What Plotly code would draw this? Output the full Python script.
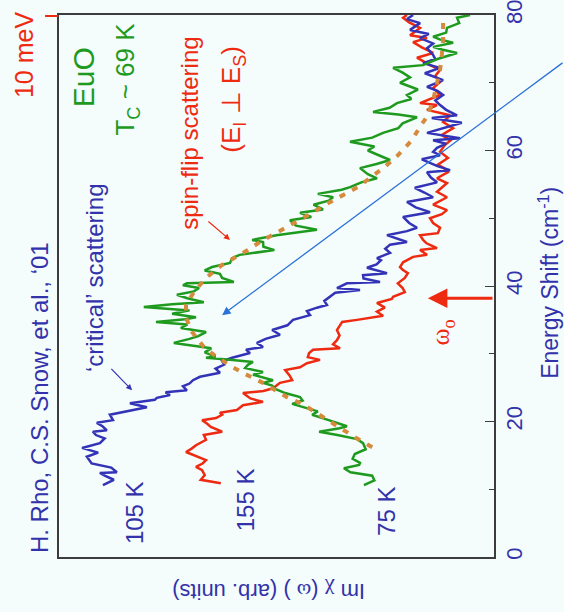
import plotly.graph_objects as go

# Energy shift (cm^-1) and Im chi (arb. units) for each temperature
e_75k = [10.6, 11.3, 12.0, 12.5, 13.1, 13.6, 13.9, 14.5, 15.2, 15.9, 16.8, 17.4, 18.0, 18.5, 19.0, 19.3,
         20.2, 21.0, 21.5, 22.1, 22.6, 23.1, 23.6, 24.2, 24.8, 25.3, 25.7, 26.1, 26.5, 26.9, 27.3, 27.9,
         28.4, 28.8, 29.1, 29.4, 29.6, 30.2, 30.8, 31.6, 32.2, 32.6, 33.2, 33.8, 34.3, 34.7, 35.1, 35.4,
         35.9, 36.4, 36.9, 37.3, 37.6, 38.2, 38.7, 39.2, 39.7, 40.1, 40.4, 40.6, 41.2, 41.8, 42.3, 42.8,
         43.4, 44.1, 44.6, 45.3, 45.8, 46.5, 46.8, 47.5, 48.3, 48.9, 49.7, 50.2, 50.8, 51.3, 52.0, 52.6,
         53.1, 53.6, 54.2, 54.6, 55.3, 55.9, 56.5, 57.4, 58.0, 58.6, 59.3, 60.0, 60.6, 61.3, 61.9, 62.6,
         63.3, 64.0, 64.9, 65.3, 65.7, 66.3, 67.0, 67.6, 68.2, 69.0, 70.0, 70.8, 71.5, 72.2, 72.6, 73.5,
         74.4, 74.9, 75.3, 75.9, 76.4, 76.8, 77.4, 78.1, 78.8, 79.6, 80.0]
i_75k = [29.9, 27.5, 28.0, 33.0, 34.5, 31.0, 30.8, 32.5, 32.0, 29.5, 30.1, 31.5, 36.0, 40.2, 35.5, 33.8,
         38.0, 41.8, 40.5, 43.9, 46.4, 44.0, 44.6, 48.0, 50.3, 51.0, 53.1, 50.8, 53.0, 55.4, 53.1, 57.2,
         56.5, 55.4, 60.7, 66.2, 64.0, 66.5, 65.0, 73.6, 70.0, 68.0, 66.2, 72.0, 70.5, 77.7, 71.0, 68.5,
         74.0, 70.0, 80.5, 74.0, 66.7, 70.5, 72.9, 69.0, 67.8, 71.5, 70.6, 59.8, 62.5, 63.0, 66.5, 64.8,
         60.7, 60.2, 58.5, 50.5, 53.0, 53.1, 55.6, 50.0, 40.7, 45.5, 46.9, 42.0, 44.6, 39.3, 41.5, 38.0,
         37.0, 40.5, 35.0, 33.1, 30.5, 26.9, 29.0, 30.8, 27.0, 23.9, 26.5, 29.0, 27.5, 33.1, 28.0, 25.5,
         22.0, 21.0, 17.7, 22.0, 27.8, 24.0, 22.3, 19.0, 20.0, 17.5, 21.6, 19.3, 21.0, 23.2, 16.3, 13.0,
         8.5, 12.0, 14.0, 9.4, 12.5, 14.0, 11.0, 10.8, 8.0, 8.5, 5.5]

e_105k = [10.6, 11.4, 12.0, 12.4, 12.5, 13.2, 13.8, 14.8, 15.4, 16.1, 16.8, 17.5, 18.0, 18.5, 18.7, 19.3,
          19.8, 20.2, 21.0, 21.7, 22.1, 22.7, 23.2, 23.5, 23.9, 24.3, 24.6, 25.2, 25.6, 26.1, 26.6, 27.2,
          27.8, 28.4, 28.9, 29.4, 30.1, 30.6, 31.0, 31.6, 32.2, 32.8, 33.5, 34.2, 35.0, 35.7, 36.3, 36.8,
          37.2, 37.8, 38.4, 39.0, 39.4, 39.7, 40.4, 40.6, 41.1, 41.6, 41.9, 42.7, 43.2, 43.8, 44.1, 44.9,
          45.5, 46.1, 46.5, 47.0, 47.5, 48.1, 48.6, 49.3, 50.2, 50.9, 51.6, 52.4, 53.1, 53.8, 54.5, 55.3,
          56.0, 56.8, 57.1, 57.7, 58.3, 58.7, 59.3, 59.8, 60.4, 61.0, 61.5, 61.8, 62.6, 63.3, 64.1, 64.8,
          65.2, 66.0, 66.7, 67.4, 68.2, 68.8, 69.4, 70.4, 71.4, 72.2, 72.9, 73.5, 74.1, 75.1, 75.8, 76.6,
          77.2, 77.8, 78.8, 79.4, 80.0]
i_105k = [89.9, 87.4, 89.5, 90.6, 86.7, 88.0, 92.5, 93.6, 91.0, 94.7, 90.6, 89.5, 91.5, 92.2, 89.0, 90.0,
          91.3, 87.6, 88.3, 83.0, 79.8, 83.7, 78.0, 77.5, 74.5, 75.5, 70.6, 71.5, 70.0, 69.2, 67.6, 63.0,
          64.0, 62.0, 62.5, 60.2, 56.1, 57.0, 53.1, 54.5, 52.5, 49.2, 51.0, 47.5, 46.2, 42.3, 43.0, 40.7,
          38.4, 39.0, 37.7, 36.5, 30.8, 36.1, 33.8, 26.2, 30.0, 30.1, 24.6, 29.2, 27.0, 26.0, 26.9, 23.9,
          25.0, 23.9, 20.0, 22.5, 24.6, 20.0, 17.7, 19.5, 20.9, 14.7, 18.0, 20.0, 14.0, 16.0, 18.2, 13.1,
          14.5, 15.4, 10.1, 13.0, 15.2, 16.6, 12.4, 14.0, 13.1, 11.0, 14.0, 7.8, 15.4, 11.5, 7.4, 14.3,
          8.5, 11.0, 12.4, 13.5, 11.7, 13.0, 15.4, 11.7, 15.9, 12.4, 16.3, 13.5, 14.0, 15.4, 14.0, 17.0,
          15.0, 19.3, 17.0, 20.0, 18.6]

e_155k = [10.9, 11.4, 12.1, 12.8, 13.3, 13.8, 14.3, 14.8, 15.5, 16.0, 16.5, 17.3, 18.0, 18.5, 19.2, 19.7,
          20.2, 20.5, 21.0, 21.3, 21.7, 22.4, 22.9, 23.4, 24.2, 24.5, 24.9, 25.7, 26.1, 26.8, 27.6, 28.0,
          28.6, 29.1, 29.5, 30.1, 30.6, 30.8, 31.4, 32.0, 32.7, 33.5, 34.1, 34.7, 35.0, 35.4, 35.6, 36.2,
          36.8, 37.5, 38.1, 38.4, 39.1, 39.7, 40.4, 41.2, 41.9, 42.4, 42.8, 43.5, 44.3, 44.6, 45.3, 45.6,
          46.3, 46.8, 47.5, 47.8, 48.6, 49.3, 50.0, 50.6, 51.2, 52.0, 52.5, 53.1, 53.9, 54.5, 55.2, 55.9,
          56.8, 57.4, 57.9, 58.9, 59.8, 60.8, 61.5, 62.3, 63.3, 64.2, 65.2, 66.0, 66.7, 67.0, 67.6, 68.2,
          69.2, 70.1, 71.0, 71.9, 72.6, 73.7, 74.4, 75.2, 76.0, 76.6, 77.0, 77.6, 78.1, 78.9, 79.6, 80.0]
i_155k = [62.8, 67.4, 66.5, 67.1, 68.5, 67.0, 66.2, 68.3, 70.8, 69.5, 68.5, 66.2, 66.7, 62.5, 65.1, 66.0,
          67.1, 63.9, 62.5, 63.0, 59.1, 57.7, 53.1, 56.0, 57.7, 53.0, 50.8, 49.2, 46.4, 47.0, 48.0, 44.6,
          43.0, 40.0, 42.8, 42.5, 41.6, 35.4, 37.0, 36.1, 35.5, 36.1, 35.5, 34.9, 31.5, 27.8, 25.5, 26.9,
          25.1, 26.9, 23.5, 23.2, 20.5, 21.0, 22.1, 20.5, 19.8, 21.0, 21.6, 20.9, 18.6, 15.4, 17.0, 13.1,
          15.5, 16.3, 17.0, 12.9, 12.4, 14.0, 14.7, 12.0, 10.8, 14.0, 12.5, 10.8, 13.1, 12.0, 10.8, 13.1,
          10.6, 11.5, 12.9, 10.6, 12.4, 11.3, 10.0, 12.0, 9.4, 11.7, 10.1, 15.4, 13.1, 17.0, 14.5, 12.4,
          14.0, 12.4, 13.5, 12.4, 14.7, 17.7, 14.0, 16.5, 18.6, 15.4, 19.3, 18.0, 17.0, 19.5, 20.9, 20.0]

# Spin-flip fit through the 75 K spectrum
e_fit = [16.2, 17.7, 20.2, 21.3, 22.6, 23.6, 25.7, 27.0, 28.0, 29.5, 31.0, 33.2, 35.3, 37.2, 39.1, 41.2,
         43.1, 45.3, 46.5, 50.0, 52.2, 54.6, 57.6, 59.3, 61.5, 63.5, 65.2, 67.4, 69.7, 71.9, 74.1, 76.3,
         78.8, 80.0]
i_fit = [28.0, 32.0, 38.2, 41.1, 44.1, 47.6, 53.1, 57.2, 60.0, 63.7, 66.7, 69.4, 70.8, 70.8, 69.0, 66.2,
         62.5, 56.6, 53.8, 44.0, 38.2, 31.3, 25.1, 22.1, 18.9, 17.0, 15.2, 14.0, 13.1, 12.4, 12.0, 11.7,
         11.7, 11.7]

energy_ticks = [0, 20, 40, 60, 80]
omega_0 = 38.2        # cm^-1
ten_mev = 80.0        # cm^-1 marker at the top of the scale

BG = "#f4fcfc"
GREEN = "#1e9a1e"
RED = "#ee2a10"
BLUE = "#3333b8"
TXT_BLUE = "#3232aa"
ORANGE = "#d68a3c"
SANS = "Liberation Sans, Arial, sans-serif"
SERIF = "Liberation Serif, Times New Roman, serif"

fig = go.Figure()

fig.add_trace(go.Scatter(x=i_155k, y=e_155k, mode="lines",
                         line=dict(color=RED, width=2.5), name="155 K"))
fig.add_trace(go.Scatter(x=i_105k, y=e_105k, mode="lines",
                         line=dict(color=BLUE, width=2.5), name="105 K"))
fig.add_trace(go.Scatter(x=i_75k, y=e_75k, mode="lines",
                         line=dict(color=GREEN, width=2.5), name="75 K"))
fig.add_trace(go.Scatter(x=i_fit, y=e_fit, mode="lines",
                         line=dict(color=ORANGE, width=4, dash="6px,8px"), name="fit"))

fig.update_layout(
    width=564, height=612,
    margin=dict(l=59, r=70, t=15, b=55),
    paper_bgcolor=BG, plot_bgcolor=BG,
    showlegend=False,
    font=dict(family=SANS, color=TXT_BLUE),
    xaxis=dict(range=[100, 0], showticklabels=False, ticks="", showgrid=False,
               zeroline=False, showline=True, mirror=True, automargin=False,
               linecolor="#3c3c3c", linewidth=1.5),
    yaxis=dict(range=[-0.001, 80.001], side="right", tickvals=energy_ticks, ticks="inside",
               ticklen=9, tickwidth=1.2, tickcolor="#3c3c3c",
               minor=dict(ticks="inside", dtick=10, ticklen=5, tickwidth=1.2, tickcolor="#3c3c3c"),
               tickangle=-90, tickfont=dict(size=22, color=TXT_BLUE, family=SANS),
               ticklabeloverflow="allow", automargin=False,
               showgrid=False, zeroline=False, showline=True, mirror=True,
               linecolor="#3c3c3c", linewidth=1.5),
)

# 10 meV marker bar outside the left frame
fig.add_shape(type="line", xref="paper", yref="y", x0=-0.032, x1=-0.002,
              y0=ten_mev, y1=ten_mev, line=dict(color=RED, width=4))


def label(text, x, y, size, color, angle=-90, family=SANS, ref="x"):
    fig.add_annotation(x=x, y=y, xref=ref, yref=ref.replace("x", "y"), text=text,
                       showarrow=False, textangle=angle, xanchor="center", yanchor="middle",
                       font=dict(size=size, color=color, family=family))


# labels outside the frame are placed in paper coordinates
label("10 meV", -0.0805, 0.926, 25, RED, ref="paper")
label("H. Rho, C.S. Snow, et al., \u201801", -0.046, 0.295, 24, TXT_BLUE, ref="paper")
label("Energy Shift (cm<sup>-1</sup>)", 1.126, 0.5055, 23, TXT_BLUE, ref="paper")
label("Im <span style='font-family:Liberation Serif'>\u03c7</span> ("
      "<span style='font-family:Liberation Serif'>\u03c9</span> ) (arb. units)",
      0.4828, -0.0627, 22, TXT_BLUE, angle=180, ref="paper")

# labels inside the frame
label("EuO", 94.3, 70.8, 30, GREEN)
label("T<sub>C</sub> ~ 69 K", 84.4, 70.6, 26, GREEN)
label("spin-flip scattering", 69.9, 62.6, 24, RED)
label("(E<sub>I</sub> \u22a5 E<sub>S</sub>)", 60.0, 67.5, 26, RED)
label("\u2018critical\u2019 scattering", 91.7, 41.2, 24, TXT_BLUE)
label("105 K", 82.5, 6.5, 24, TXT_BLUE)
label("155 K", 57.2, 8.4, 24, TXT_BLUE)
label("75 K", 24.6, 6.8, 24, TXT_BLUE)
label("\u03c9<sub>o</sub>", 12.0, 33.1, 26, RED, family=SERIF)


def arrow(x_tip, y_tip, x_tail, y_tail, color, width, head=2, size=1.0):
    fig.add_annotation(x=x_tip, y=y_tip, ax=x_tail, ay=y_tail, xref="x", yref="y",
                       axref="x", ayref="y", text="", showarrow=True,
                       arrowhead=head, arrowsize=size, arrowwidth=width, arrowcolor=color)


# pointer to the critical-scattering spectrum
arrow(83.2, 24.6, 88.3, 28.0, BLUE, 1.2)
# pointer to the spin-flip fit
arrow(60.7, 46.8, 66.0, 49.7, RED, 1.2)
# long guide arrow entering from the right
arrow(62.5, 35.7, -16.1, 73.1, "#2a72d8", 1.3, head=2, size=1.3)
# omega_0 marker
arrow(15.2, omega_0, 0.0, omega_0, RED, 3, head=2, size=1.3)

fig.write_html("out.html")
